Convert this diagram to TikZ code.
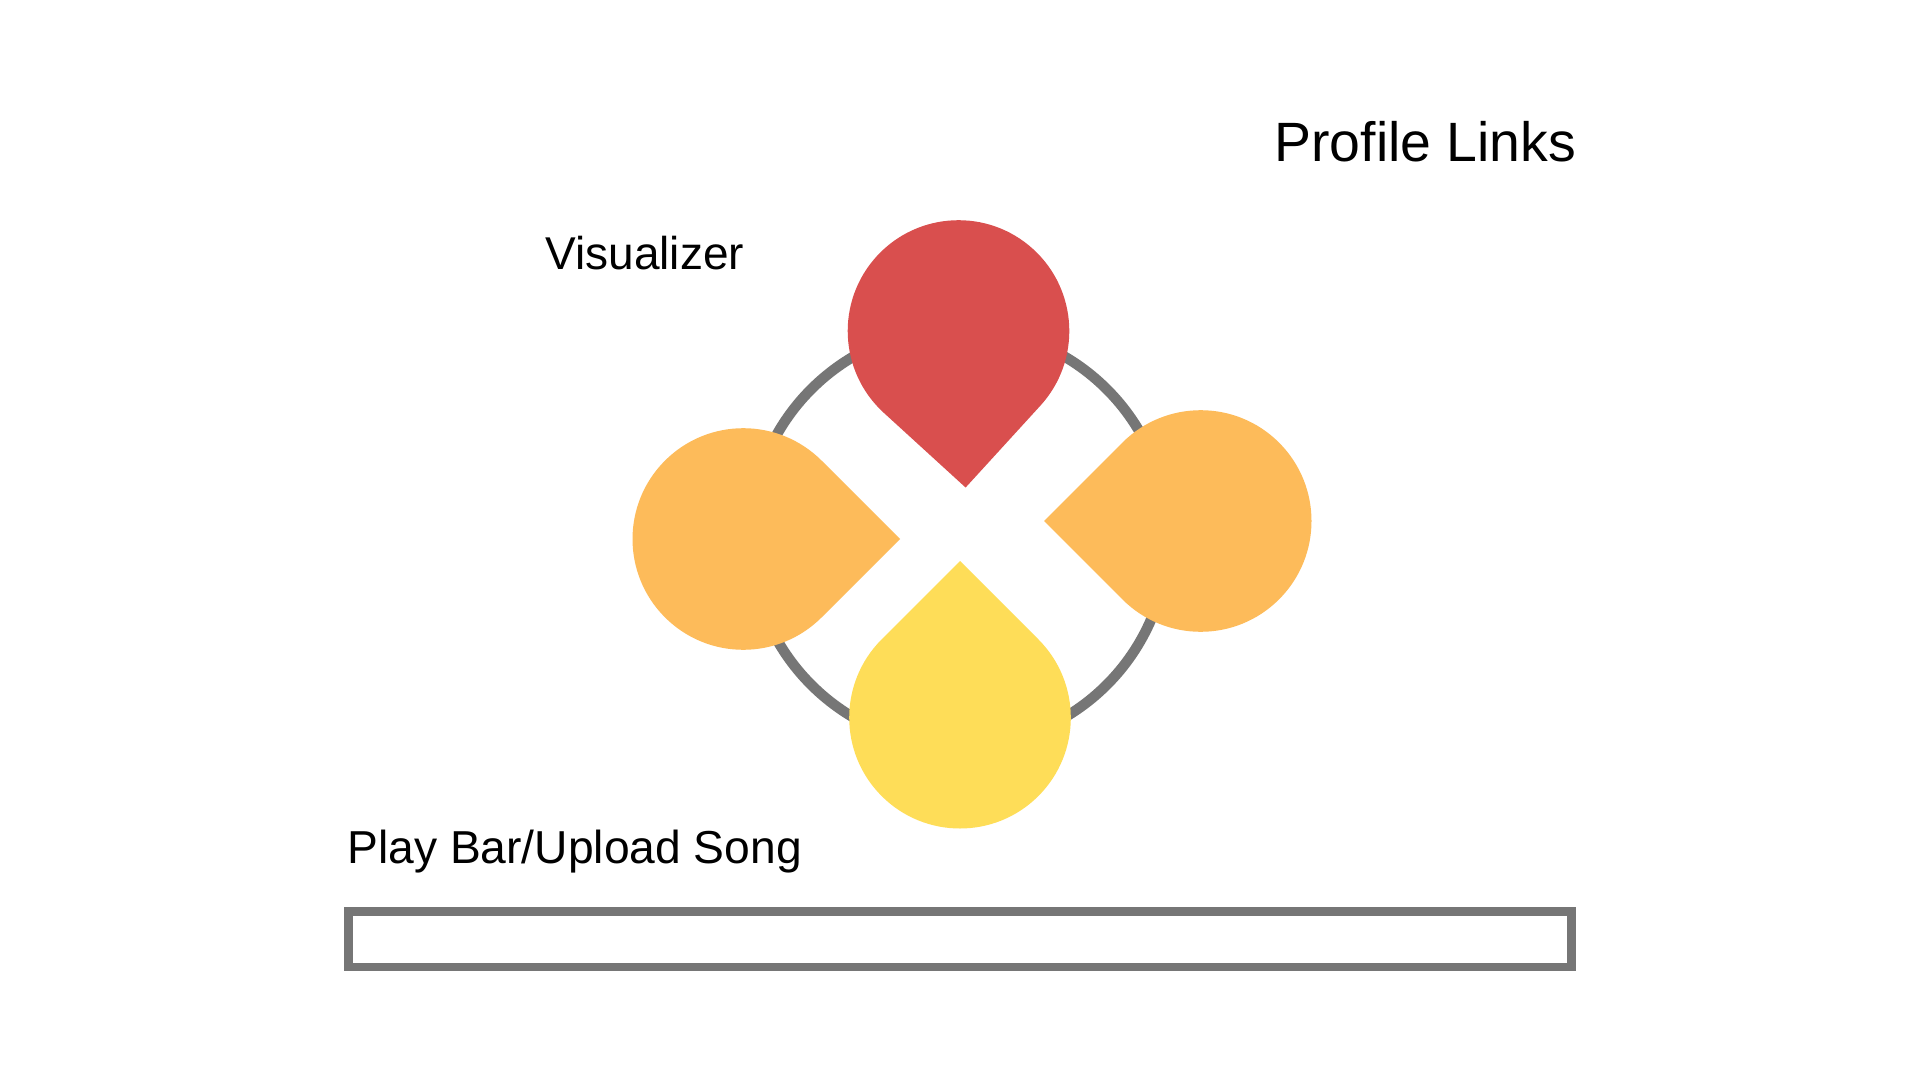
\documentclass[tikz,border=0pt]{standalone}
\usepackage{fontspec}
\setmainfont{Liberation Sans}
\definecolor{petalred}{RGB}{217,79,78}
\definecolor{petalorange}{RGB}{253,187,90}
\definecolor{petalyellow}{RGB}{254,221,88}
\definecolor{ringgray}{RGB}{118,118,118}
\begin{document}
\begin{tikzpicture}[x=0.5pt,y=-0.5pt,
  label/.style={anchor=base west,inner sep=0pt,text=black},
  ring/.style={draw=ringgray,line width=5.2pt},
  bar/.style={draw=ringgray,line width=4.25pt},
  petal/.pic={\fill[#1] (0:156.7) -- (45:110.8) arc[start angle=45,end angle=315,radius=110.8] -- cycle;}]
\useasboundingbox[fill=white] (0,0) rectangle (1920,1080);

% ring behind the petals
\draw[ring] (959,537) circle[radius=209];

% four teardrop petals, tips pointing to the centre
\pic[rotate=-87.4] at (958.5,331) {petal=petalred};
\pic at (743.3,539) {petal=petalorange};
\pic[rotate=180] at (1200.7,521) {petal=petalorange};
\pic[rotate=90] at (960,717.7) {petal=petalyellow};

% labels
\node[label,font=\fontsize{27.7}{30}\selectfont] (profile) at (1274,162) {Profile Links};
\node[label,font=\fontsize{23}{25}\selectfont] (visual) at (545,270) {Visualizer};
\node[label,font=\fontsize{23.1}{25}\selectfont] (playlabel) at (347,863) {Play Bar/Upload Song};

% play bar
\draw[bar] (348.5,911.5) rectangle (1571.5,967);
\end{tikzpicture}
\end{document}
